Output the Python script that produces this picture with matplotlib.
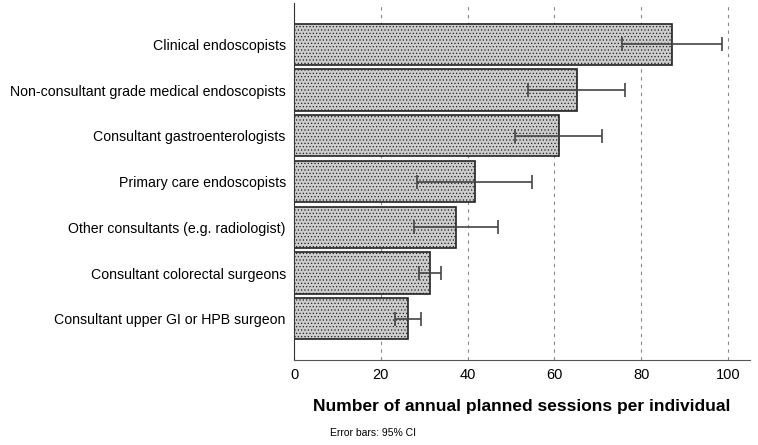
import matplotlib.pyplot as plt
import numpy as np

plt.rcParams['font.family'] = ['Liberation Sans', 'DejaVu Sans']
plt.rcParams['hatch.color'] = '#333333'
plt.rcParams['hatch.linewidth'] = 0.5

# Данные
categories = [
    'Clinical endoscopists',
    'Non-consultant grade medical endoscopists',
    'Consultant gastroenterologists',
    'Primary care endoscopists',
    'Other consultants (e.g. radiologist)',
    'Consultant colorectal surgeons',
    'Consultant upper GI or HPB surgeon',
]
means = [87.1, 65.3, 61.0, 41.6, 37.4, 31.3, 26.3]
ci_low = [75.5, 54.0, 50.8, 28.4, 27.7, 28.7, 23.3]
ci_high = [98.7, 76.3, 71.0, 54.8, 46.9, 33.8, 29.2]
xticks = [0, 20, 40, 60, 80, 100]

fig = plt.figure(figsize=(7.58, 4.45), dpi=100)
ax = fig.add_axes([0.388, 0.191, 0.601, 0.802])

y = np.arange(len(categories))
means_a = np.array(means)
err = [means_a - np.array(ci_low), np.array(ci_high) - means_a]

ax.barh(y, means, height=0.9, color='#cccccc', edgecolor='#222222',
        linewidth=1.2, hatch='.....', zorder=2)
ax.errorbar(means, y, xerr=err, fmt='none', ecolor='#444444',
            elinewidth=1.2, capsize=5, capthick=1.2, zorder=3)

ax.set_ylim(len(categories) - 0.1, -0.9)
ax.set_xlim(0, 105)
ax.set_yticks(y)
ax.set_yticklabels(categories, fontsize=10.2)
ax.set_xticks(xticks)
ax.set_xticklabels([str(t) for t in xticks], fontsize=10.5)
ax.tick_params(axis='both', length=0, pad=6)

ax.grid(axis='x', linestyle=(0, (3, 4)), color='#888888', linewidth=0.8, zorder=0)
ax.set_axisbelow(True)

for s in ['top', 'right']:
    ax.spines[s].set_visible(False)
ax.spines['left'].set_color('#333333')
ax.spines['bottom'].set_color('#555555')

ax.set_xlabel('Number of annual planned sessions per individual',
              fontsize=12.5, fontweight='bold', labelpad=12)
fig.text(0.435, 0.02, 'Error bars: 95% CI', fontsize=7.5)

fig.savefig('out.png', dpi=100)
